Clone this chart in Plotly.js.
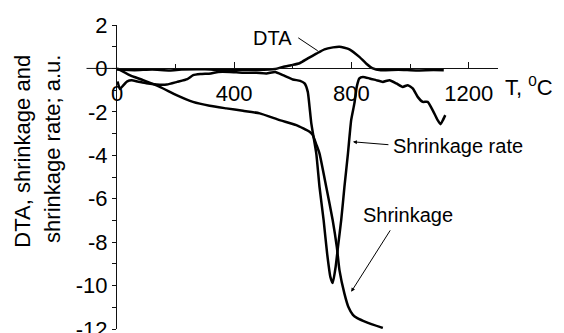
<!DOCTYPE html>
<html>
<head>
<meta charset="utf-8">
<script src="https://cdn.plot.ly/plotly-3.0.1.min.js"></script>
<style>html,body{margin:0;padding:0;background:#fff;}#chart{width:564px;height:333px;}</style>
</head>
<body>
<div id="chart"></div>
<script>
// Temperature (°C) and values (a.u.)
const dtaT = [0, 60, 120, 180, 220, 300, 360, 420, 480, 540, 566, 594, 623, 651, 680, 708, 737, 759, 793, 827, 850, 873, 900, 960, 1020, 1080, 1115];
const dtaV = [-0.05, -0.08, -0.05, -0.09, -0.05, -0.04, -0.08, -0.06, -0.07, -0.03, 0.07, 0.15, 0.24, 0.46, 0.68, 0.88, 0.97, 1.0, 0.88, 0.53, 0.23, 0.0, -0.08, -0.06, -0.09, -0.07, -0.08];

const rateT = [2, 10, 20, 35, 50, 70, 100, 135, 170, 205, 240, 260, 285, 320, 345, 385, 430, 475, 510, 540, 566, 600, 625, 640, 651, 657, 663, 680, 691, 705, 717, 728, 736, 746, 754, 765, 776, 788, 799, 810, 818, 827, 839, 862, 884, 907, 930, 953, 975, 992, 1009, 1026, 1043, 1060, 1077, 1094, 1104, 1112, 1120];
const rateV = [-0.6, -0.95, -0.8, -0.6, -0.55, -0.6, -0.68, -0.74, -0.74, -0.62, -0.49, -0.31, -0.26, -0.23, -0.16, -0.16, -0.2, -0.2, -0.23, -0.16, -0.31, -0.51, -0.57, -0.69, -1.08, -1.77, -2.53, -3.92, -5.46, -6.99, -8.53, -9.6, -9.88, -9.14, -8.22, -6.99, -5.46, -3.92, -2.38, -1.61, -0.85, -0.46, -0.39, -0.46, -0.54, -0.62, -0.54, -0.69, -0.85, -0.77, -0.92, -1.31, -1.54, -1.54, -1.92, -2.38, -2.57, -2.38, -2.15];

const shrT = [0, 43, 89, 146, 203, 259, 316, 373, 430, 487, 555, 612, 657, 668, 680, 691, 714, 736, 750, 759, 776, 790, 805, 820, 850, 907];
const shrV = [0, -0.31, -0.54, -0.85, -1.23, -1.54, -1.72, -1.84, -1.95, -2.07, -2.38, -2.61, -2.92, -3.07, -3.5, -3.92, -5.46, -6.99, -8.22, -9.29, -10.37, -11.0, -11.35, -11.5, -11.68, -11.95];

const xTickVals = [0, 400, 800, 1200];
const xTickText = ['0', '400', '800', '1200'];
const yTickVals = [-12, -10, -8, -6, -4, -2, 0, 2];
const yTickText = ['-12', '-10', '-8', '-6', '-4', '-2', '0', '2'];

const FONT = 'Arial, "Liberation Sans", sans-serif';
const line = {color: '#000', width: 2.5, shape: 'spline', smoothing: 0.5};

const traces = [
  {x: dtaT, y: dtaV, mode: 'lines', line: line, name: 'DTA', hoverinfo: 'skip'},
  {x: rateT, y: rateV, mode: 'lines', line: line, name: 'Shrinkage rate', hoverinfo: 'skip'},
  {x: shrT, y: shrV, mode: 'lines', line: line, name: 'Shrinkage', hoverinfo: 'skip'}
];

const layout = {
  width: 564, height: 333,
  margin: {l: 117, r: 66, t: 25, b: 4},
  paper_bgcolor: '#fff', plot_bgcolor: '#fff',
  showlegend: false,
  font: {family: FONT, color: '#000', size: 22},
  xaxis: {
    range: [0, 1300], anchor: 'free', position: 12 / 14,
    showline: true, linecolor: '#111', linewidth: 1,
    ticks: 'inside', ticklen: 6, tickcolor: '#111',
    tickmode: 'array', tickvals: xTickVals, ticktext: xTickText,
    minor: {dtick: 200, ticks: 'inside', ticklen: 4, tickcolor: '#111', showgrid: false},
    ticklabelstandoff: 5, ticklabeloverflow: 'allow',
    showgrid: false, zeroline: false,
    tickfont: {size: 22, family: FONT, color: '#000'}
  },
  yaxis: {
    range: [-12, 2],
    showline: true, linecolor: '#111', linewidth: 1,
    ticks: 'outside', ticklen: 4, tickcolor: '#111',
    tickmode: 'array', tickvals: yTickVals, ticktext: yTickText,
    minor: {dtick: 1, ticks: 'outside', ticklen: 4, tickcolor: '#111', showgrid: false},
    ticklabeloverflow: 'allow',
    showgrid: false, zeroline: false,
    tickfont: {size: 22, family: FONT, color: '#000'}
  },
  shapes: [
    {type: 'line', xref: 'paper', yref: 'y', x0: -0.08, x1: 0, y0: 0, y1: 0, line: {color: '#111', width: 1}}
  ],
  annotations: [
    {xref: 'paper', yref: 'paper', x: -0.248, y: 0.585, xanchor: 'center', yanchor: 'middle',
     textangle: -90, showarrow: false, text: 'DTA, shrinkage and',
     font: {size: 22, family: FONT, color: '#000'}},
    {xref: 'paper', yref: 'paper', x: -0.171, y: 0.592, xanchor: 'center', yanchor: 'middle',
     textangle: -90, showarrow: false, text: 'shrinkage rate; a.u.',
     font: {size: 22, family: FONT, color: '#000'}},
    {xref: 'paper', yref: 'y', x: 1.013, y: -0.8, xanchor: 'left', yanchor: 'middle', showarrow: false,
     text: 'T, <sup>0</sup>C', font: {size: 22, family: FONT, color: '#000'}},
    {xref: 'x', yref: 'y', x: 529, y: 1.40, xanchor: 'center', yanchor: 'middle', showarrow: false,
     text: 'DTA', font: {size: 20, family: FONT, color: '#000'}},
    {xref: 'x', yref: 'y', x: 935, y: -3.55, xanchor: 'left', yanchor: 'middle', showarrow: false,
     text: 'Shrinkage rate', font: {size: 20, family: FONT, color: '#000'}},
    {xref: 'x', yref: 'y', x: 833, y: -6.74, xanchor: 'left', yanchor: 'middle', showarrow: false,
     text: 'Shrinkage', font: {size: 20, family: FONT, color: '#000'}},
    {xref: 'x', yref: 'y', x: 685, y: 0.81, ax: -21, ay: -14, text: '', showarrow: true,
     arrowhead: 0, arrowwidth: 1, arrowcolor: '#000'},
    {xref: 'x', yref: 'y', x: 805, y: -3.38, ax: 37, ay: 3, text: '', showarrow: true,
     arrowhead: 2, arrowsize: 0.8, arrowwidth: 1, arrowcolor: '#000'},
    {xref: 'x', yref: 'y', x: 799, y: -10.29, ax: 40, ay: -63, text: '', showarrow: true,
     arrowhead: 2, arrowsize: 0.8, arrowwidth: 1, arrowcolor: '#000'}
  ]
};

Plotly.newPlot('chart', traces, layout, {staticPlot: true, displayModeBar: false});
</script>
</body>
</html>
